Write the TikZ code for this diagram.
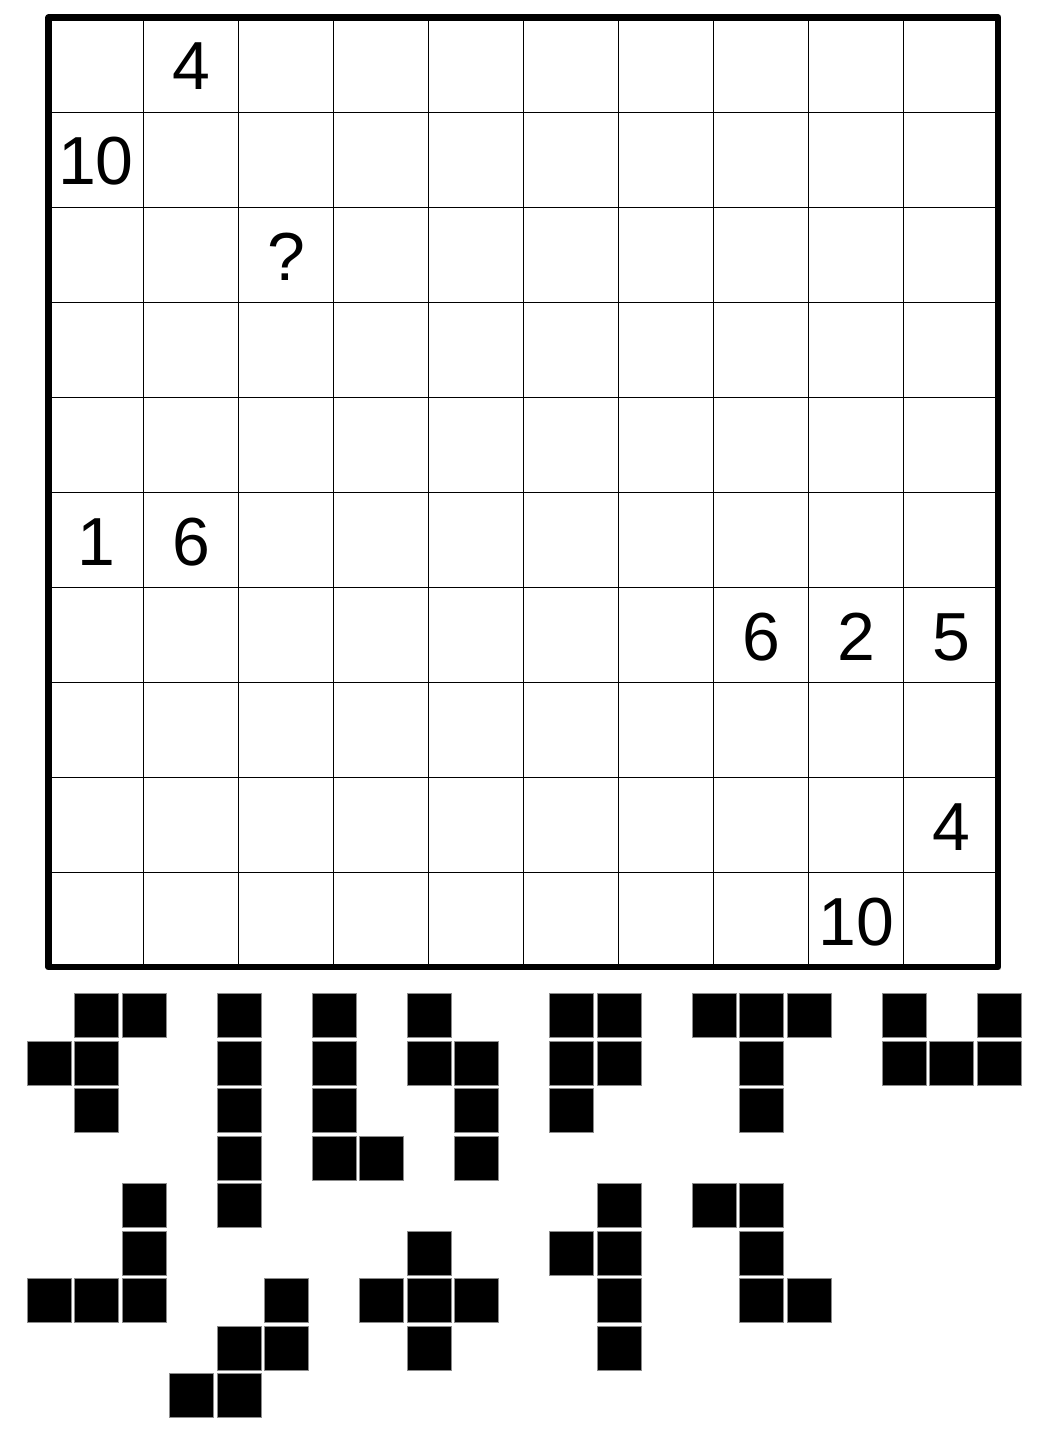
\documentclass[tikz,border=0pt]{standalone}
\usepackage{fontspec}
\setmainfont{Liberation Sans}
\begin{document}
\begin{tikzpicture}[x=1pt,y=-1pt,
  gridline/.style={line width=1.9pt,draw=black},
  frameline/.style={line width=6.2pt,draw=black,line join=round},
  clue/.style={inner sep=0pt,text height=49pt,text depth=0pt,font=\fontsize{68}{80}\selectfont},
  piecesq/.style={fill=black,draw=black!45,line width=1pt}]
\useasboundingbox (0,0) rectangle (1045,1439);
% grid
\foreach \i in {1,...,9}{
  \draw[gridline] ({48.5+95*\i},17.5) -- ({48.5+95*\i},967.3);
  \draw[gridline] (48.5,{17.5+95*\i}) -- (998.3,{17.5+95*\i});
}
\draw[frameline] (48.5,17.5) rectangle (998.3,967.3);
% clues
\foreach \c/\r/\t/\n in {1/0/4/a,0/1/10/b,2/2/?/c,0/5/1/d,1/5/6/e,7/6/6/f,8/6/2/g,9/6/5/h,9/8/4/i,8/9/10/j}{
  \node[clue] (clue\n) at ({96+95*\c},{65.5+95*\r}) {\t};
}
% pentominoes
\foreach \c/\r in {
  1/0,2/0,0/1,1/1,1/2,
  4/0,4/1,4/2,4/3,4/4,
  6/0,6/1,6/2,6/3,7/3,
  8/0,8/1,9/1,9/2,9/3,
  11/0,12/0,11/1,12/1,11/2,
  14/0,15/0,16/0,15/1,15/2,
  18/0,20/0,18/1,19/1,20/1,
  2/4,2/5,0/6,1/6,2/6,
  5/6,4/7,5/7,3/8,4/8,
  8/5,7/6,8/6,9/6,8/7,
  12/4,11/5,12/5,12/6,12/7,
  14/4,15/4,15/5,15/6,16/6}{
  \filldraw[piecesq] ({27.2+47.5*\c},{993.8+47.5*\r}) rectangle ++(44,44);
}
\end{tikzpicture}
\end{document}
